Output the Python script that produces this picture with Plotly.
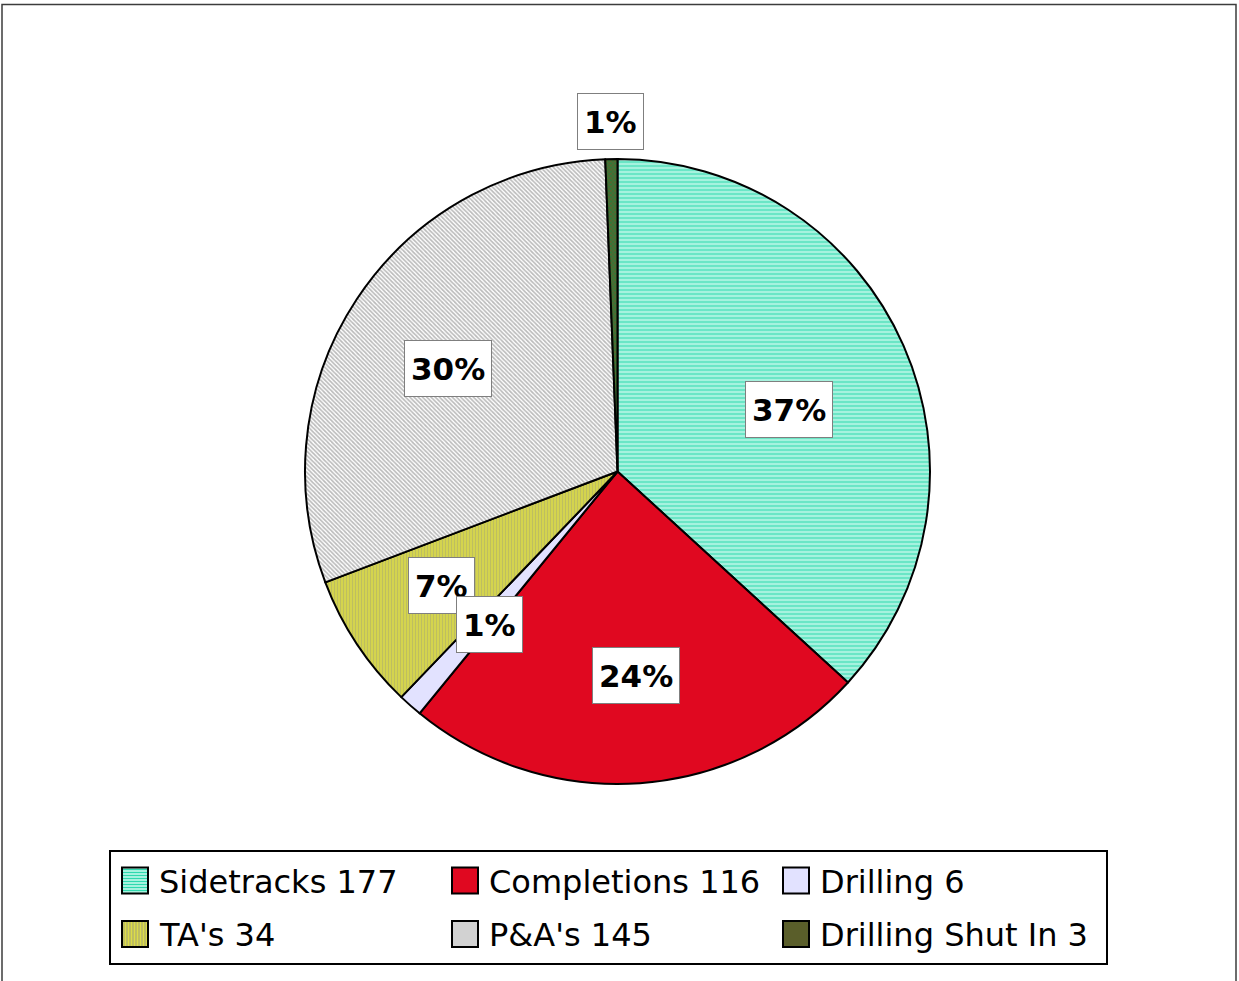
import plotly.graph_objects as go

# ---- data ----
categories = ["Sidetracks", "Completions", "Drilling", "TA's", "P&A's", "Drilling Shut In"]
counts = [177, 116, 6, 34, 145, 3]

# ---- styles ----
bg_colors = ["#A6F2DE", "#E00820", "#E2E2FF", "#DCDC48", "#FFFFFF", "#2E7A3A"]
fg_colors = ["#2FD9AE", "#E00820", "#E2E2FF", "#A0A078", "#777777", "#8B4A22"]
shapes_pat = ["-", "", "", "|", "\\", "x"]
pat_size = [4, 8, 8, 3, 3, 3]
pat_sol = [0.5, 0.3, 0.3, 0.5, 0.55, 0.5]
legend_fill = ["#A6F2DE", "#E00820", "#E2E2FF", "#DCDC48", "#D2D2D2", "#5A5E2A"]
legend_stripe = ["h", None, None, "v", None, None]
stripe_col = ["#2FD9AE", None, None, "#A0A078", None, None]
label_xy = [(789, 409.5), (636, 675), (489, 624.5), (441, 585), (448, 369), (610, 121.5)]
draw_order = [0, 1, 3, 4, 2, 5]

W, H = 1239, 981
cx, cy, R = 617.5, 471.5, 312.5  # pie centre / radius in pixels


def px(x):
    return x / W


def py(y):
    return 1 - y / H


fig = go.Figure()
fig.add_trace(go.Pie(
    labels=[f"{c} {n}" for c, n in zip(categories, counts)],
    values=counts,
    sort=False,
    direction="clockwise",
    rotation=0,
    textinfo="none",
    hoverinfo="label+percent",
    showlegend=False,
    marker=dict(
        colors=bg_colors,
        line=dict(color="black", width=2),
        pattern=dict(shape=shapes_pat, fgcolor=fg_colors, bgcolor=bg_colors,
                     size=pat_size, solidity=pat_sol, fillmode="overlay"),
    ),
    domain=dict(x=[px(cx - R), px(cx + R)], y=[py(cy + R), py(cy - R)]),
))

# percentage labels in white boxes
total = sum(counts)
annotations = []
for i in draw_order:
    lx, ly = label_xy[i]
    pct = round(counts[i] / total * 100)
    annotations.append(dict(
        x=px(lx), y=py(ly), xref="paper", yref="paper",
        xanchor="center", yanchor="middle",
        text=f"<b>{pct}%</b>", showarrow=False,
        font=dict(family="DejaVu Sans", size=31, color="black"),
        height=43,
        bgcolor="white", bordercolor="#7f7f7f", borderwidth=1, borderpad=6,
    ))

shapes = [dict(type="rect", xref="paper", yref="paper",
               x0=px(2), x1=px(1236), y0=-0.01, y1=py(4.5),
               line=dict(color="#3c3c3c", width=1.5))]

# legend (drawn manually for sizing)
leg_box = (110, 851, 1107, 964)
shapes.append(dict(type="rect", xref="paper", yref="paper",
                   x0=px(leg_box[0]), x1=px(leg_box[2]),
                   y0=py(leg_box[3]), y1=py(leg_box[1]),
                   line=dict(color="black", width=2), fillcolor="white", layer="above"))
col_x = [122, 452, 783]
row_y = [880.5, 934]
sq = 26
for i, (c, n) in enumerate(zip(categories, counts)):
    x0 = col_x[i % 3]
    yc = row_y[i // 3]
    y0 = yc - sq / 2
    shapes.append(dict(type="rect", xref="paper", yref="paper",
                       x0=px(x0), x1=px(x0 + sq), y0=py(y0 + sq), y1=py(y0),
                       fillcolor=legend_fill[i], line=dict(width=0), layer="above"))
    st = legend_stripe[i]
    if st == "h":
        for k in range(2, sq, 3):
            shapes.append(dict(type="line", xref="paper", yref="paper",
                               x0=px(x0), x1=px(x0 + sq), y0=py(y0 + k), y1=py(y0 + k),
                               line=dict(color=stripe_col[i], width=1), layer="above"))
    elif st == "v":
        for k in range(2, sq, 3):
            shapes.append(dict(type="line", xref="paper", yref="paper",
                               x0=px(x0 + k), x1=px(x0 + k), y0=py(y0), y1=py(y0 + sq),
                               line=dict(color=stripe_col[i], width=1), layer="above"))
    shapes.append(dict(type="rect", xref="paper", yref="paper",
                       x0=px(x0), x1=px(x0 + sq), y0=py(y0 + sq), y1=py(y0),
                       line=dict(color="black", width=2), layer="above"))
    annotations.append(dict(
        x=px(x0 + sq + 9), y=py(yc + 1), xref="paper", yref="paper",
        xanchor="left", yanchor="middle", showarrow=False,
        text=f"{c} {n}",
        font=dict(family="DejaVu Sans", size=32, color="black"),
    ))

fig.update_layout(
    width=W, height=H,
    margin=dict(l=0, r=0, t=0, b=0),
    paper_bgcolor="white",
    plot_bgcolor="white",
    annotations=annotations,
    shapes=shapes,
    showlegend=False,
)

fig.write_html("out.html")
